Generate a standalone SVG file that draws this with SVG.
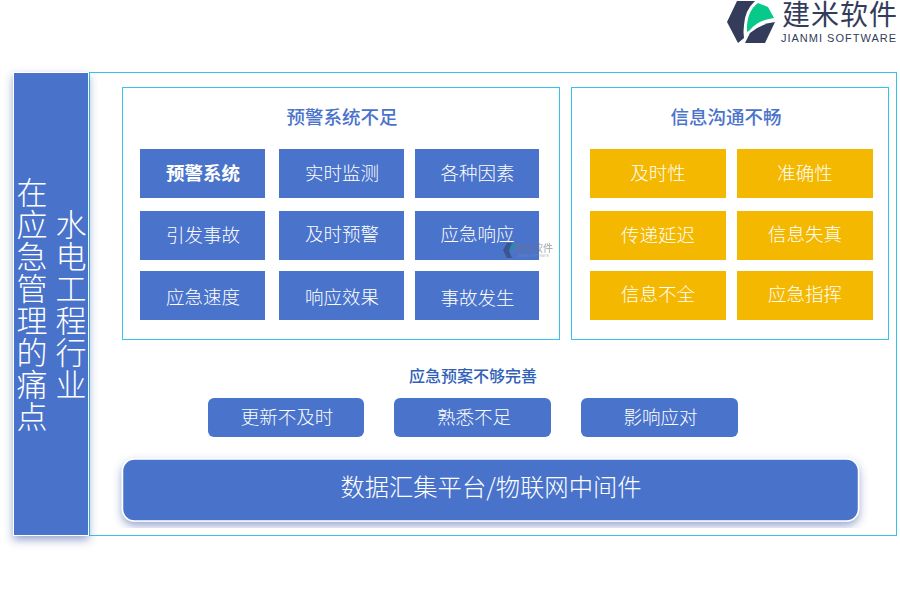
<svg xmlns="http://www.w3.org/2000/svg" width="900" height="600" viewBox="0 0 900 600">
<defs>
<style>
text{font-family:"Noto Sans CJK SC",sans-serif;text-anchor:middle;fill:#fff;font-weight:300}
.b{fill:#4a73cb}
.y{fill:#f4b800}
.t{font-size:18.5px}
.frame{fill:none;stroke:#35c4ee;stroke-width:1}
.head{fill:#4a73cb;font-size:18.5px;font-weight:500}
.v{font-size:31px;writing-mode:vertical-rl;letter-spacing:1px}
</style>
<filter id="sh" x="-30%" y="-10%" width="160%" height="120%"><feDropShadow dx="0" dy="4" stdDeviation="4" flood-color="#2f50a0" flood-opacity=".5"/></filter>
</defs>
<g id="logo">
<path d="M737 1H755Q745 10 744 25Q743 32 744 38L738 43L727 22Z" fill="#333d5b"/>
<path d="M747 32Q746 12 758 3L768 7L774 18Q758 20 750 30Z" fill="#06c98a"/>
<path d="M745 43L750 33Q760 24 775 22L765 43Z" fill="#333d5b"/>
<text x="840" y="25" style="font-size:28px;fill:#333d5b;letter-spacing:1px;font-weight:400">建米软件</text>
<text x="839" y="42" style="font-family:'Liberation Sans',sans-serif;font-size:11px;fill:#333d5b;letter-spacing:1px;font-weight:400">JIANMI SOFTWARE</text>
</g>
<rect class="frame" x="89.500" y="72.500" width="807" height="463"/>
<g id="side">
<rect x="13.500" y="72.500" width="75" height="463" class="b" stroke="#fff" filter="url(#sh)"/>
<text class="v" x="32" y="305">在应急管理的痛点</text>
<text class="v" x="71" y="305">水电工程行业</text>
</g>
<g id="panel-left">
<rect class="frame" x="122.500" y="87.500" width="437" height="252"/>
<text class="head" x="342" y="124">预警系统不足</text>
</g>
<g id="panel-right">
<rect class="frame" x="571.500" y="87.500" width="317" height="252"/>
<text class="head" x="726" y="124">信息沟通不畅</text>
</g>
<g id="n1"><rect class="b" x="140" y="149" width="125" height="49"/><text class="t" x="203" y="180" style="font-weight:700">预警系统</text></g>
<g id="n2"><rect class="b" x="279" y="149" width="125" height="49"/><text class="t" x="342" y="180">实时监测</text></g>
<g id="n3"><rect class="b" x="415" y="149" width="124" height="49"/><text class="t" x="477.500" y="180">各种因素</text></g>
<g id="n4"><rect class="b" x="140" y="211" width="125" height="49"/><text class="t" x="203" y="242">引发事故</text></g>
<g id="n5"><rect class="b" x="279" y="211" width="125" height="49"/><text class="t" x="342" y="241">及时预警</text></g>
<g id="n6"><rect class="b" x="415" y="211" width="124" height="49"/><text class="t" x="477.500" y="241">应急响应</text></g>
<g id="n7"><rect class="b" x="140" y="271" width="125" height="49"/><text class="t" x="203" y="304">应急速度</text></g>
<g id="n8"><rect class="b" x="279" y="271" width="125" height="49"/><text class="t" x="342" y="304">响应效果</text></g>
<g id="n9"><rect class="b" x="415" y="271" width="124" height="49"/><text class="t" x="477.500" y="305">事故发生</text></g>
<g id="m1"><rect class="y" x="590" y="149" width="136" height="49"/><text class="t" x="658" y="180">及时性</text></g>
<g id="m2"><rect class="y" x="737" y="149" width="136" height="49"/><text class="t" x="805" y="180">准确性</text></g>
<g id="m3"><rect class="y" x="590" y="211" width="136" height="49"/><text class="t" x="658" y="242">传递延迟</text></g>
<g id="m4"><rect class="y" x="737" y="211" width="136" height="49"/><text class="t" x="805" y="241">信息失真</text></g>
<g id="m5"><rect class="y" x="590" y="271" width="136" height="49"/><text class="t" x="658" y="301">信息不全</text></g>
<g id="m6"><rect class="y" x="737" y="271" width="136" height="49"/><text class="t" x="805" y="301">应急指挥</text></g>
<g id="plan-title"><text x="473" y="382" style="font-size:16px;font-weight:500;fill:#2f5fb8">应急预案不够完善</text></g>
<g id="p1"><rect class="b" x="208" y="398" width="156" height="39" rx="6"/><text class="t" x="287" y="424">更新不及时</text></g>
<g id="p2"><rect class="b" x="394" y="398" width="157" height="39" rx="6"/><text class="t" x="474" y="424">熟悉不足</text></g>
<g id="p3"><rect class="b" x="581" y="398" width="157" height="39" rx="6"/><text class="t" x="660.500" y="424">影响应对</text></g>
<g id="platform"><rect class="b" x="122.500" y="459" width="736" height="62" rx="12" stroke="#fff" stroke-width="1.500" filter="url(#sh)"/><text x="491" y="496" style="font-size:24.3px">数据汇集平台/物联网中间件</text></g>
<g id="watermark" opacity=".55">
<path d="M507 243H512L509 251L512 258H507L503 250Z" fill="#333d5b"/>
<path d="M510 252Q509 246 514 243L518 247Q513 248 510 252Z" fill="#06a0a0"/>
<text x="533" y="252" style="font-size:10px;fill:#6d7488;font-weight:500">建米软件</text>
<text x="533" y="257" style="font-family:'Liberation Sans',sans-serif;font-size:3.500px;fill:#8a90a0">JIANMI SOFTWARE</text>
</g>
</svg>
